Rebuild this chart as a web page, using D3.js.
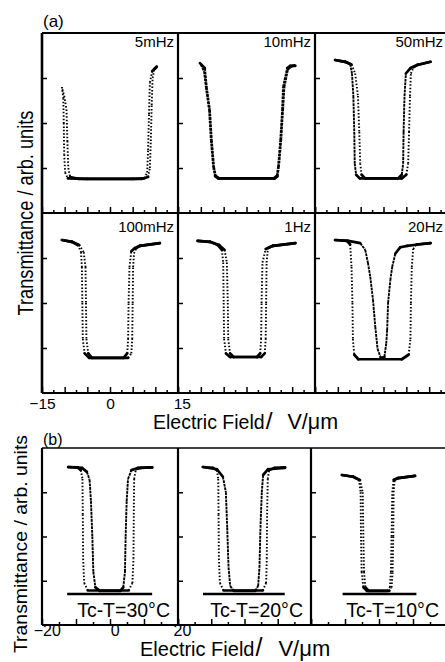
<!DOCTYPE html>
<html>
<head>
<meta charset="utf-8">
<script src="https://cdn.jsdelivr.net/npm/d3@7"></script>
<style>
  body { margin: 0; background: #fff; }
  text { font-family: "Liberation Sans", Arial, sans-serif; fill: #000; }
</style>
</head>
<body>
<svg id="chart"></svg>
<script>
var width = 445;
var height = 662;

// ---- data (E in V/um, T in arb. units) ----
var labelsA = ["5mHz", "10mHz", "50mHz", "100mHz", "1Hz", "20Hz"];
var labelsB = ["Tc-T=30°C", "Tc-T=20°C", "Tc-T=10°C"];
var tickLabelsA = [-15, 0, 15];
var tickLabelsB = [-20, 0, 20];
var yTickValues = [1, 2, 3];

// panel (a) branches: [E, T]
var a5mHz_1 = [[-10.6,2.8],[-10.3,2.55],[-10.2,2.0],[-10.1,1.3],[-9.9,0.9],[-9.3,0.77],[-5,0.76],[5,0.76],[7.6,0.77],[8.2,0.9],[8.4,1.4],[8.6,2.2],[8.8,2.9],[9.3,3.15],[10.3,3.25]];
var a5mHz_2 = [[-10.5,2.75],[-10.1,2.6],[-9.6,2.3],[-9.4,1.6],[-9.2,1.0],[-8.8,0.8],[-7,0.76],[7,0.76],[8.4,0.8],[8.8,1.0],[9.0,1.6],[9.2,2.4],[9.4,3.0],[9.8,3.2],[10.3,3.25]];

var a10mHz_1 = [[-10.2,3.33],[-9.1,3.22],[-8.7,2.8],[-8.0,2.29],[-7.6,1.62],[-7.1,1.02],[-6.7,0.82],[-6,0.77],[6,0.77],[6.6,0.82],[6.9,1.02],[7.4,1.62],[7.8,2.29],[8.0,2.8],[8.9,3.22],[9.6,3.27],[10.7,3.27]];
var a10mHz_2 = [[-10.0,3.3],[-9.3,3.15],[-8.9,2.8],[-8.2,2.29],[-7.8,1.62],[-7.3,1.02],[-6.9,0.82],[-6.2,0.77],[6.2,0.77],[6.8,0.82],[7.1,1.02],[7.6,1.62],[8.0,2.29],[8.3,2.8],[9.1,3.2],[9.8,3.26],[10.5,3.28]];

var a50mHz_1 = [[-10.6,3.4],[-8.4,3.36],[-7.3,3.31],[-6.9,3.1],[-6.6,2.6],[-6.4,1.8],[-6.3,1.1],[-6.0,0.85],[-5.2,0.77],[3.2,0.77],[4.0,0.85],[4.3,1.1],[4.4,1.8],[4.6,2.6],[4.9,3.1],[5.9,3.22],[7.4,3.29],[10.3,3.36]];
var a50mHz_2 = [[-10.6,3.4],[-8.4,3.36],[-7.0,3.3],[-6.2,3.1],[-5.6,2.6],[-5.3,1.8],[-5.1,1.1],[-4.8,0.85],[-4,0.77],[4,0.77],[5.0,0.85],[5.4,1.1],[5.6,1.8],[5.8,2.6],[6.0,3.1],[6.6,3.24],[7.4,3.29],[10.3,3.36]];

var a100mHz_1 = [[-10.6,3.4],[-8.4,3.36],[-7.1,3.29],[-6.4,3.13],[-6.2,2.8],[-6.1,2],[-6.0,1.2],[-5.6,0.88],[-4.6,0.78],[3,0.78],[3.8,0.88],[4.0,1.2],[4.1,2],[4.3,2.8],[4.7,3.15],[5.5,3.22],[6.6,3.27],[11,3.33]];
var a100mHz_2 = [[-10.6,3.4],[-8.4,3.36],[-6.8,3.29],[-5.8,3.13],[-5.4,2.8],[-5.3,2],[-5.2,1.2],[-4.8,0.88],[-4,0.78],[4,0.78],[4.7,0.88],[4.9,1.2],[5.0,2],[5.1,2.8],[5.3,3.1],[5.8,3.22],[6.6,3.27],[11,3.33]];

var a1Hz_1 = [[-10.7,3.38],[-8,3.36],[-6.3,3.29],[-5.4,3.18],[-5.1,2.9],[-5.0,2],[-4.9,1.2],[-4.5,0.88],[-3.6,0.8],[2.3,0.8],[3.0,0.88],[3.2,1.2],[3.3,2],[3.5,2.9],[4.2,3.2],[5.8,3.27],[10.7,3.33]];
var a1Hz_2 = [[-10.7,3.38],[-8,3.36],[-6.0,3.29],[-4.8,3.18],[-4.3,2.9],[-4.1,2],[-4.0,1.2],[-3.6,0.88],[-2.8,0.8],[3.2,0.8],[4.0,0.88],[4.2,1.2],[4.3,2],[4.4,2.9],[4.7,3.22],[5.8,3.27],[10.7,3.33]];

var a20Hz_1 = [[-10.6,3.4],[-7.7,3.38],[-5.1,3.33],[-4.0,3.18],[-3.4,2.89],[-2.9,2.58],[-2.3,2.07],[-1.8,1.47],[-1.3,0.98],[-0.6,0.78],[0.2,0.8],[0.6,1.1],[0.8,1.4],[1.0,2.0],[1.5,2.51],[1.9,2.8],[2.6,3.1],[3.7,3.24],[5.2,3.27],[7.5,3.3],[10.3,3.33]];
var a20Hz_2 = [[-10.6,3.4],[-8,3.38],[-7.3,3.3],[-7.0,2.8],[-6.8,2.0],[-6.7,1.2],[-6.4,0.85],[-5.5,0.75],[4,0.75],[5.5,0.85],[5.9,1.2],[6.0,2.0],[6.2,2.8],[6.5,3.2],[7.2,3.3],[10.3,3.33]];

// panel (b) branches
var b30_1 = [[-12.3,3.57],[-9.5,3.56],[-8.6,3.5],[-8.1,3.3],[-8.0,2.5],[-7.9,1.5],[-7.6,0.95],[-6.5,0.78],[5.5,0.78],[6.6,0.95],[6.9,1.5],[7.0,2.5],[7.1,3.3],[7.6,3.52],[9,3.55],[12.4,3.56]];
var b30_2 = [[-12.3,3.57],[-8.2,3.55],[-6.8,3.46],[-6.0,3.28],[-5.6,2.8],[-5.2,2],[-4.9,1.2],[-4.3,0.85],[-3,0.77],[3,0.77],[3.9,0.85],[4.4,1.2],[4.6,2],[4.9,2.8],[5.3,3.3],[6.3,3.5],[8.2,3.55],[12.4,3.56]];

var b20_1 = [[-12.5,3.57],[-9.5,3.55],[-8.3,3.5],[-7.9,3.3],[-7.8,2.5],[-7.7,1.5],[-7.4,0.95],[-6.3,0.78],[5.5,0.78],[6.5,0.95],[6.7,1.5],[6.8,2.5],[7.0,3.3],[7.4,3.5],[9,3.55],[12.2,3.56]];
var b20_2 = [[-12.5,3.57],[-8.3,3.52],[-6.5,3.35],[-5.6,3.0],[-5.2,2.2],[-4.8,1.3],[-4.3,0.88],[-3.2,0.77],[3.2,0.77],[4.1,0.88],[4.5,1.3],[4.8,2.2],[5.2,3.0],[5.6,3.39],[7.1,3.52],[12.2,3.55]];

var b10_1 = [[-10.9,3.39],[-7.6,3.35],[-5.9,3.28],[-5.4,3.0],[-5.3,2],[-5.1,1.2],[-4.6,0.85],[-3.5,0.77],[2.5,0.77],[3.2,0.85],[3.5,1.2],[3.7,2],[3.9,3.0],[4.3,3.28],[5.6,3.32],[10.6,3.37]];
var b10_2 = [[-10.9,3.39],[-7.6,3.35],[-5.6,3.28],[-4.8,3.0],[-4.6,2],[-4.4,1.2],[-4,0.85],[-3,0.77],[3,0.77],[3.7,0.85],[4.0,1.2],[4.2,2],[4.3,3.0],[4.6,3.28],[5.6,3.32],[10.6,3.37]];

// horizontal reference line under each (b) curve
var baseRangeB = [[-12.6, 12.4], [-12.5, 12.1], [-10.7, 11.0]];
var baseLevelB = 0.70;

// ---- layout ----
var colXA = [42, 178, 315], colWA = [136, 137, 137];
var rowYA = [33, 213], rowHA = 180;
var labelDyA = [14, 19];
var colXB = [42, 178, 311], colWB = [136, 133, 136];
var rowYB = 448, rowHB = 177;

var svg = d3.select('#chart')
  .attr('width', width)
  .attr('height', height);

var curvesA = [
  [a5mHz_1, a5mHz_2], [a10mHz_1, a10mHz_2], [a50mHz_1, a50mHz_2],
  [a100mHz_1, a100mHz_2], [a1Hz_1, a1Hz_2], [a20Hz_1, a20Hz_2]
];
var stylesA = [["dot","dot"], ["solid","solid"], ["solid","dot"],
               ["dot","dot"], ["dot","dot"], ["solid","dot"]];
var curvesB = [[b30_1, b30_2], [b20_1, b20_2], [b10_1, b10_2]];
var stylesB = [["dot","solid"], ["dot","solid"], ["dot","dot"]];

// draw a branch: flat parts solid & thick, steep parts dotted/dashed
function drawBranch(g, pts, x, y, style){
  d3.pairs(pts).forEach(function(p){
    var x1 = x(p[0][0]), y1 = y(p[0][1]), x2 = x(p[1][0]), y2 = y(p[1][1]);
    var steep = Math.abs(y2 - y1) > 1.3 * Math.abs(x2 - x1);
    g.append('line')
      .attr('x1', x1).attr('y1', y1).attr('x2', x2).attr('y2', y2)
      .attr('stroke', '#000')
      .attr('stroke-width', steep ? 1.9 : 2.7)
      .attr('stroke-linecap', steep ? 'butt' : 'round')
      .attr('stroke-dasharray', steep ? (style === 'dot' ? '1.5 1.9' : '2.8 0.8') : null);
  });
}

function drawTicks(g, x, y, yBottom, major, minor){
  var minorAxis = g.append('g')
    .attr('transform', `translate(0, ${yBottom})`)
    .call(d3.axisBottom(x).tickValues(minor).tickSize(-3).tickFormat(''));
  var majorAxis = g.append('g')
    .attr('transform', `translate(0, ${yBottom})`)
    .call(d3.axisBottom(x).tickValues(major).tickSize(-6).tickFormat(''));
  var left = g.append('g')
    .attr('transform', `translate(${x.range()[0]}, 0)`)
    .call(d3.axisLeft(y).tickValues(yTickValues).tickSize(-5).tickFormat(''));
  [minorAxis, majorAxis, left].forEach(function(a){
    a.select('.domain').remove();
    a.selectAll('line').attr('stroke', '#000').attr('stroke-width', 1.5);
  });
}

// x title: "Electric Field/ V/μm" with the wide slash of the original
function xTitle(g, x0, y0, fs, gap){
  var t = g.append('text').attr('x', x0).attr('y', y0).style('font-size', fs + 'px');
  t.append('tspan').text('Electric Field');
  t.append('tspan').attr('dx', 1).style('font-size', (fs + 5) + 'px').text('/');
  t.append('tspan').attr('dx', gap).style('font-size', (fs + 2) + 'px').text('V/μm');
}

// ---- panel (a) ----
var gA = svg.append('g');
var xAxisA;
labelsA.forEach(function(label, i){
  var r = Math.floor(i / 3), c = i % 3;
  var x = d3.scaleLinear().domain([-15, 15]).range([colXA[c], colXA[c] + colWA[c]]);
  var y = d3.scaleLinear().domain([0, 4]).range([rowYA[r] + rowHA, rowYA[r]]);
  var g = gA.append('g');
  drawTicks(g, x, y, rowYA[r] + rowHA, d3.range(-15, 16, 5), [-12.5, -7.5, -2.5, 2.5, 7.5, 12.5]);
  curvesA[i].forEach(function(pts, k){ drawBranch(g, pts, x, y, stylesA[i][k]); });
  g.append('text')
    .attr('x', Math.min(colXA[c] + colWA[c] - 4, width - 2))
    .attr('y', rowYA[r] + labelDyA[r])
    .attr('text-anchor', 'end')
    .style('font-size', '15px')
    .text(label);
  if (r === 1 && c === 0) xAxisA = x;
});

// frame (a)
var frameA = gA.append('g').attr('stroke', '#000').attr('fill', 'none');
frameA.append('line').attr('x1', 42).attr('x2', width).attr('y1', 33).attr('y2', 33).attr('stroke-width', 2);
frameA.append('line').attr('x1', 42).attr('x2', width).attr('y1', 213).attr('y2', 213).attr('stroke-width', 2.2);
frameA.append('line').attr('x1', 42).attr('x2', width).attr('y1', 393).attr('y2', 393).attr('stroke-width', 2.2);
[42, 178, 315].forEach(function(xv, i){
  frameA.append('line').attr('x1', xv).attr('x2', xv).attr('y1', 33).attr('y2', 393)
    .attr('stroke-width', i === 0 ? 2.6 : 2.2);
});

// tick labels (a)
var labAxisA = gA.append('g')
  .attr('transform', 'translate(0, 393)')
  .call(d3.axisBottom(xAxisA).tickValues(tickLabelsA).tickSize(0).tickPadding(5));
labAxisA.select('.domain').remove();
labAxisA.selectAll('text').style('font-size', '15.5px').attr('font-family', null);
labAxisA.selectAll('.tick').filter(function(d){ return d === 15; })
  .select('text').attr('dx', '0.25em');

gA.append('text').attr('x', 43).attr('y', 27).style('font-size', '17px').text('(a)');

xTitle(gA, 153, 429, 19.5, 15);

gA.append('text')
  .attr('transform', 'translate(33, 213) rotate(-90)')
  .attr('text-anchor', 'middle')
  .attr('textLength', 205).attr('lengthAdjust', 'spacingAndGlyphs')
  .style('font-size', '22px')
  .text('Transmittance / arb. units');

// ---- panel (b) ----
var gB = svg.append('g');
var xAxisB;
labelsB.forEach(function(label, c){
  var x = d3.scaleLinear().domain([-20, 20]).range([colXB[c], colXB[c] + colWB[c]]);
  var y = d3.scaleLinear().domain([0, 4]).range([rowYB + rowHB, rowYB]);
  var g = gB.append('g');
  drawTicks(g, x, y, rowYB + rowHB, d3.range(-20, 21, 10), [-15, -5, 5, 15]);
  g.append('line')
    .attr('x1', x(baseRangeB[c][0])).attr('x2', x(baseRangeB[c][1]))
    .attr('y1', y(baseLevelB)).attr('y2', y(baseLevelB))
    .attr('stroke', '#000').attr('stroke-width', 2.6);
  curvesB[c].forEach(function(pts, k){ drawBranch(g, pts, x, y, stylesB[c][k]); });
  g.append('text')
    .attr('x', colXB[c] + colWB[c] - 8)
    .attr('y', 617)
    .attr('text-anchor', 'end')
    .style('font-size', '19.5px')
    .text(label);
  if (c === 0) xAxisB = x;
});

var frameB = gB.append('g').attr('stroke', '#000').attr('fill', 'none');
frameB.append('line').attr('x1', 42).attr('x2', width).attr('y1', 448).attr('y2', 448).attr('stroke-width', 1.6);
frameB.append('line').attr('x1', 42).attr('x2', width).attr('y1', 625).attr('y2', 625).attr('stroke-width', 2.2);
[42, 178, 311].forEach(function(xv){
  frameB.append('line').attr('x1', xv).attr('x2', xv).attr('y1', 448).attr('y2', 625).attr('stroke-width', 2.2);
});

var labAxisB = gB.append('g')
  .attr('transform', 'translate(0, 625)')
  .call(d3.axisBottom(xAxisB).tickValues(tickLabelsB).tickSize(0).tickPadding(0));
labAxisB.select('.domain').remove();
labAxisB.selectAll('text').style('font-size', '16px').attr('font-family', null);
labAxisB.selectAll('.tick').filter(function(d){ return d !== 20; })
  .select('text').attr('dx', '0.3em');
labAxisB.selectAll('.tick').filter(function(d){ return d === 20; })
  .select('text').attr('dx', '0.25em');

gB.append('text').attr('x', 43).attr('y', 445).style('font-size', '16px').text('(b)');

xTitle(gB, 140, 656, 20, 16);

gB.append('text')
  .attr('transform', 'translate(27, 544) rotate(-90)')
  .attr('text-anchor', 'middle')
  .attr('textLength', 218).attr('lengthAdjust', 'spacingAndGlyphs')
  .style('font-size', '19px')
  .text('Transmittance / arb. units');
</script>
</body>
</html>
